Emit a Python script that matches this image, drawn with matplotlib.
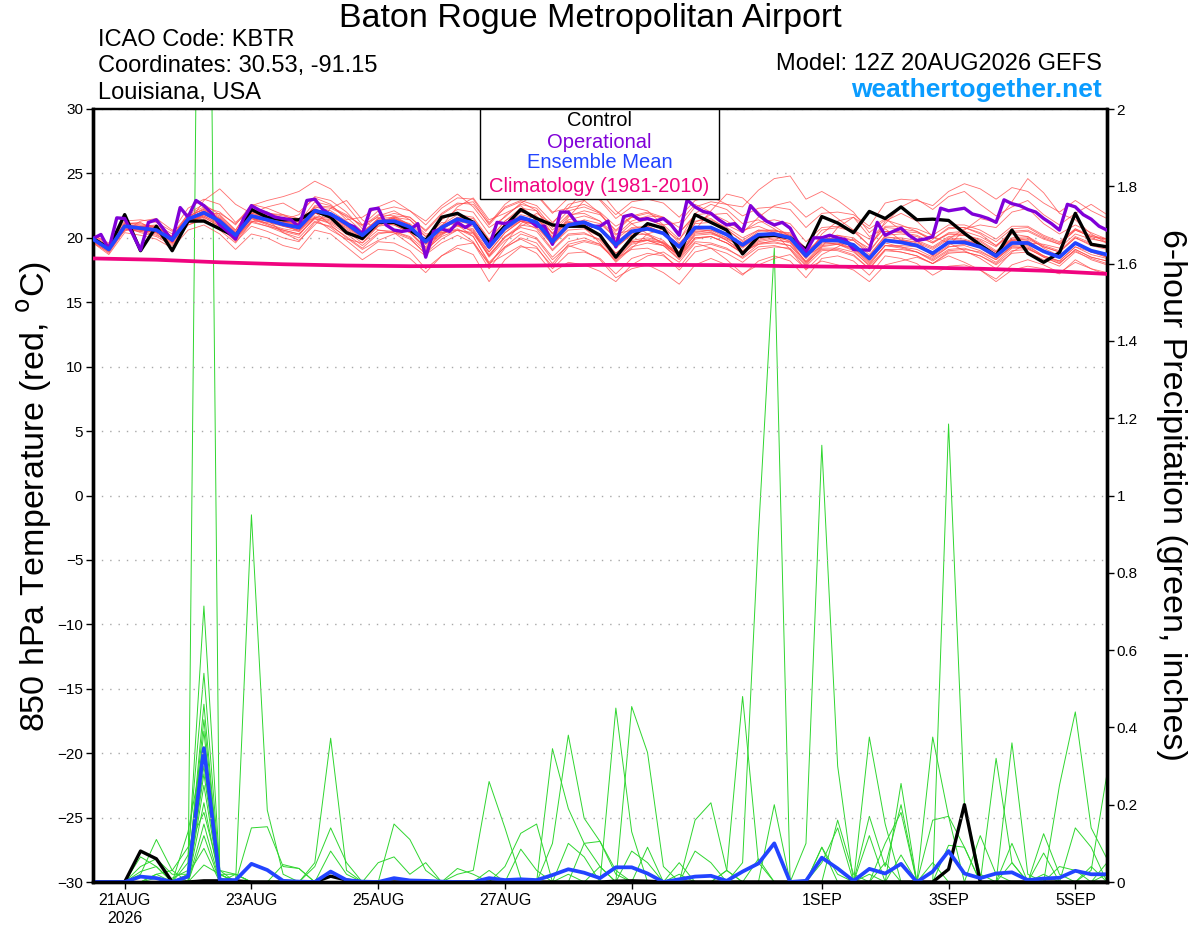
import matplotlib
matplotlib.use("Agg")
import matplotlib.pyplot as plt
from matplotlib.patches import Rectangle

plt.rcParams['font.family'] = ['Liberation Sans', 'DejaVu Sans']

# ---------------- data ----------------
FCST_HOURS_6H = list(range(0, 385, 6))      # 12Z 20AUG2026 + hours
FCST_HOURS_3H = list(range(0, 385, 3))
XTICK_HOURS = [12, 60, 108, 156, 204, 276, 324, 372]
XTICK_LABELS = ['21AUG\n2026', '23AUG', '25AUG', '27AUG', '29AUG', '1SEP', '3SEP', '5SEP']
TEMP_TICKS = [-30, -25, -20, -15, -10, -5, 0, 5, 10, 15, 20, 25, 30]
PRECIP_TICKS = [0, 0.2, 0.4, 0.6, 0.8, 1.0, 1.2, 1.4, 1.6, 1.8, 2.0]
PRECIP_TICK_LABELS = ['0', '0.2', '0.4', '0.6', '0.8', '1', '1.2', '1.4', '1.6', '1.8', '2']

CONTROL_T = [19.95, 19.2, 21.8, 19.0, 20.9, 19.0, 21.3, 21.3, 20.7, 20.1, 22.2, 21.6, 21.4,
             21.4, 22.1, 21.6, 20.4, 19.95, 21.2, 21.2, 20.6, 19.8, 21.6, 21.9, 21.2, 19.6,
             20.9, 22.2, 21.5, 21.0, 20.9, 20.9, 20.2, 18.5, 20.0, 21.1, 20.75, 18.6, 21.8,
             21.2, 20.6, 18.75, 20.1, 20.2, 20.0, 19.1, 21.65, 21.15, 20.4, 22.05, 21.5, 22.4,
             21.4, 21.45, 21.35, 20.35, 19.45, 18.6, 20.6, 18.8, 18.1, 18.85, 21.9, 19.5, 19.3]

OPERATIONAL_T = [19.95, 20.26, 19.1, 21.55, 21.5, 20.3, 19.05, 21.2, 21.4, 20.6, 19.8, 22.35, 21.6,
                 22.9, 22.5, 21.9, 21.0, 20.5, 19.9, 21.5, 22.5, 22.15, 21.9, 21.6, 21.5, 21.4,
                 20.85, 22.9, 23.0, 22.2, 21.8, 21.5, 21.1, 20.85, 20.3, 22.2, 22.3, 21.0, 20.6,
                 20.5, 20.6, 21.1, 18.5, 20.5, 20.7,
                 20.5, 21.2, 20.8, 21.2, 20.2, 19.3, 21.2, 21.1, 21.3, 21.5, 21.4, 20.9, 20.9,
                 19.5, 22.0, 22.0, 21.2, 21.2, 20.9, 20.9, 21.3, 19.3, 21.65, 21.8, 21.4, 21.5,
                 21.3, 21.5, 21.0, 20.2, 22.95, 22.4, 22.05, 21.9, 21.4, 21.0, 21.1, 20.5, 22.5,
                 21.8, 21.3, 21.0,
                 21.2, 20.75, 19.6, 18.9, 20.0, 20.0, 20.2, 20.0, 19.85, 19.1, 19.05, 19.05, 21.2,
                 20.2, 20.5, 20.75, 20.2, 19.8, 19.9, 20.1, 22.3, 22.1, 22.2, 22.3, 21.85, 21.7,
                 21.5, 21.2, 22.95, 22.65, 22.5, 22.2, 22.0, 21.5, 21.1, 20.6, 22.6, 22.4, 21.8,
                 21.45, 20.9, 20.6]

MEAN_T = [19.9, 19.1, 20.9, 20.75, 20.6, 19.85, 21.45, 21.95, 21.3, 20.2, 21.7, 21.4, 21.05,
          20.8, 22.1, 21.85, 21.1, 20.2, 21.25, 21.3, 20.85, 19.7, 20.8, 21.45, 21.15, 19.3,
          20.75, 21.6, 21.2, 19.7, 21.0, 21.2, 20.7, 19.45, 20.5, 20.7, 20.35, 19.3, 20.8,
          20.8, 20.25, 19.45, 20.25, 20.3, 20.0, 18.6, 19.8, 19.8, 19.45, 18.4, 19.8, 19.65,
          19.4, 18.8, 19.65, 19.65, 19.3, 18.6, 19.6, 19.6, 18.95, 18.5, 19.6, 19.0, 18.7]

CLIM_HOURS = [0, 24, 48, 72, 96, 120, 144, 168, 192, 216, 240, 264, 288, 312, 336, 360, 384]
CLIM_T = [18.4, 18.3, 18.1, 17.95, 17.85, 17.8, 17.82, 17.85, 17.9, 17.9, 17.88, 17.8, 17.75,
          17.7, 17.6, 17.45, 17.2]

MEMBERS_T = [
    [20.1, 19.3, 21.2, 21.0, 20.9, 20.0, 21.9, 22.6, 21.8, 20.6, 22.4, 22.0, 21.5,
     21.2, 22.8, 22.5, 21.6, 20.5, 21.4, 21.5, 20.9, 19.5, 20.4, 20.9, 20.6, 18.7,
     20.1, 20.8, 20.5, 19.0, 20.2, 20.3, 19.9, 18.6, 19.7, 19.8, 19.4, 18.3, 19.7,
     19.6, 19.2, 18.4, 19.3, 19.4, 19.1, 17.8, 19.0, 19.1, 18.7, 17.6, 19.0, 18.9,
     18.6, 18.0, 18.9, 18.9, 18.6, 17.9, 18.8, 18.9, 18.3, 17.8, 18.9, 18.4, 18.0],
    [19.8, 19.0, 20.7, 20.6, 20.4, 19.7, 21.2, 21.7, 21.1, 20.0, 21.3, 21.2, 20.9,
     20.6, 21.7, 21.5, 20.9, 20.1, 21.3, 21.5, 21.1, 20.1, 21.4, 22.2, 22.0, 20.3,
     21.7, 22.6, 22.3, 20.8, 22.1, 22.4, 21.9, 20.5, 21.6, 21.9, 21.5, 20.4, 21.8,
     21.9, 21.3, 20.5, 21.2, 21.4, 21.1, 19.7, 20.8, 20.9, 20.6, 19.4, 20.8, 20.7,
     20.5, 19.9, 20.7, 20.8, 20.4, 19.7, 20.7, 20.8, 20.1, 19.6, 20.7, 20.2, 19.9],
    [20.0, 19.2, 21.0, 20.6, 20.5, 19.9, 21.6, 22.3, 21.7, 20.6, 22.5, 22.9, 23.2,
     23.6, 24.4, 23.8, 22.5, 21.0, 21.6, 21.2, 20.5, 19.2, 20.3, 21.0, 20.7, 18.9,
     20.4, 21.3, 21.0, 19.4, 20.8, 21.1, 20.6, 19.2, 20.3, 20.6, 20.4, 19.5, 21.1,
     21.2, 20.6, 19.8, 20.6, 20.4, 20.2, 18.8, 20.1, 20.2, 19.8, 18.7, 20.1, 19.9,
     19.6, 19.1, 19.9, 19.8, 19.4, 18.8, 19.9, 20.0, 19.3, 18.9, 20.0, 19.4, 19.1],
    [19.7, 18.8, 20.6, 20.5, 20.3, 19.5, 21.0, 21.4, 20.8, 19.8, 21.2, 20.9, 20.6,
     20.3, 21.5, 21.2, 20.5, 19.6, 20.6, 20.5, 20.0, 18.7, 19.6, 20.2, 19.6, 17.6,
     19.2, 20.0, 19.6, 18.0, 19.5, 19.8, 19.5, 18.4, 19.6, 19.9, 19.6, 18.5, 20.0,
     20.1, 19.6, 18.8, 19.7, 19.9, 19.6, 18.1, 19.4, 19.5, 19.1, 18.0, 19.4, 19.3,
     19.1, 18.5, 19.3, 19.4, 19.0, 18.3, 19.3, 19.3, 18.6, 18.2, 19.3, 18.7, 18.4],
    [20.2, 19.4, 21.1, 21.1, 20.8, 20.1, 21.6, 22.0, 21.2, 20.4, 22.1, 21.9, 21.7,
     21.4, 22.3, 21.6, 20.7, 19.9, 21.0, 21.7, 21.6, 20.5, 21.8, 22.6, 22.8, 21.0,
     22.4, 22.9, 22.5, 21.2, 22.3, 22.6, 22.0, 20.9, 21.6, 21.5, 20.9, 19.6, 20.7,
     20.5, 19.8, 18.9, 19.5, 19.6, 19.4, 18.2, 19.5, 19.6, 19.4, 18.6, 20.2, 20.3,
     20.1, 19.6, 20.4, 20.5, 20.1, 19.4, 20.5, 20.6, 20.0, 19.5, 20.6, 20.1, 19.9],
    [19.9, 19.2, 20.8, 20.9, 20.8, 20.0, 21.3, 21.6, 20.9, 19.9, 21.5, 21.0, 20.5,
     20.2, 21.6, 21.4, 20.8, 20.0, 21.2, 21.5, 21.0, 19.6, 20.5, 21.0, 20.5, 18.5,
     19.8, 20.5, 20.0, 18.5, 19.7, 20.0, 19.5, 18.2, 19.3, 19.6, 19.4, 18.7, 20.4,
     20.6, 20.2, 19.6, 20.5, 20.6, 20.3, 18.9, 20.0, 19.9, 19.4, 18.3, 19.6, 19.3,
     18.9, 18.2, 19.0, 19.1, 18.9, 18.3, 19.4, 19.5, 18.9, 18.5, 19.6, 19.0, 18.6],
    [20.0, 19.1, 20.9, 20.7, 20.5, 19.8, 21.4, 22.0, 21.4, 20.3, 21.9, 21.7, 21.3,
     21.0, 22.2, 21.9, 21.2, 20.3, 21.5, 21.9, 21.6, 20.6, 21.9, 22.7, 22.6, 21.1,
     22.6, 23.5, 23.3, 21.9, 23.1, 23.4, 23.0, 21.8, 22.8, 23.0, 22.7, 21.6, 22.9,
     23.2, 22.6, 21.7, 22.3, 22.4, 22.2, 20.8, 21.9, 22.0, 21.8, 20.9, 22.7, 23.0,
     22.9, 22.5, 23.6, 24.2, 23.8, 23.0, 23.9, 23.6, 22.7, 22.0, 22.9, 22.1, 21.5],
    [19.8, 18.9, 20.7, 20.5, 20.2, 19.6, 21.2, 21.6, 20.9, 19.7, 20.9, 20.5, 20.0,
     19.7, 21.2, 20.9, 20.1, 19.2, 20.3, 20.5, 20.1, 19.0, 20.2, 21.0, 20.9, 19.1,
     20.6, 21.3, 20.7, 19.1, 20.3, 20.4, 19.8, 18.4, 19.1, 19.2, 18.7, 17.5, 18.9,
     19.2, 18.8, 18.1, 19.1, 19.3, 19.2, 17.9, 19.3, 19.5, 19.2, 18.2, 19.8, 19.8,
     19.7, 19.2, 20.0, 19.9, 19.5, 18.7, 19.6, 19.4, 18.6, 18.1, 19.0, 18.3, 17.9],
    [20.1, 19.2, 21.1, 20.9, 20.7, 19.9, 21.5, 22.1, 21.5, 20.4, 21.9, 21.6, 21.2,
     20.9, 22.2, 21.8, 21.0, 20.1, 21.1, 21.0, 20.4, 19.3, 20.6, 21.4, 21.2, 19.5,
     21.1, 22.0, 21.7, 20.3, 21.7, 22.1, 21.8, 20.6, 21.7, 22.0, 21.6, 20.4, 21.7,
     21.5, 20.7, 19.7, 20.3, 20.2, 19.7, 18.1, 19.1, 19.0, 18.6, 17.6, 19.1, 19.1,
     18.9, 18.4, 19.3, 19.5, 19.3, 18.7, 19.8, 19.9, 19.3, 18.9, 20.0, 19.5, 19.3],
    [19.6, 18.9, 20.8, 20.9, 20.9, 20.1, 21.7, 22.2, 21.5, 20.2, 21.6, 21.1, 20.7,
     20.5, 21.9, 21.7, 21.1, 20.4, 21.5, 21.6, 21.0, 19.5, 20.3, 20.7, 20.1, 18.1,
     19.3, 19.9, 19.3, 17.6, 18.8, 18.9, 18.4, 17.2, 18.4, 18.8, 18.6, 17.7, 19.3,
     19.5, 19.1, 18.5, 19.5, 19.8, 19.7, 18.4, 19.7, 19.8, 19.5, 18.5, 19.9, 19.8,
     19.5, 18.9, 19.7, 19.6, 19.2, 18.4, 19.3, 19.2, 18.5, 18.0, 19.1, 18.5, 18.2],
    [20.0, 19.0, 21.0, 20.8, 20.6, 19.8, 21.4, 21.9, 21.1, 20.0, 21.5, 21.3, 21.1,
     21.0, 22.5, 22.4, 21.8, 20.9, 21.8, 21.7, 21.0, 19.7, 20.7, 21.3, 21.0, 19.2,
     20.6, 21.4, 21.0, 19.5, 20.6, 20.7, 20.1, 18.8, 19.8, 20.0, 19.7, 18.7, 20.2,
     20.3, 19.9, 19.3, 20.2, 20.5, 20.4, 19.2, 20.6, 20.8, 20.5, 19.4, 20.9, 20.9,
     20.7, 20.2, 21.0, 21.0, 20.6, 19.9, 20.9, 20.9, 20.2, 19.7, 20.7, 20.0, 19.6],
    [19.9, 19.1, 20.8, 20.6, 20.4, 19.8, 21.3, 21.8, 21.2, 20.1, 21.6, 21.3, 20.9,
     20.6, 21.9, 21.7, 21.0, 20.2, 21.2, 21.4, 20.9, 19.8, 20.9, 21.6, 21.3, 19.6,
     21.0, 21.8, 21.5, 20.1, 21.4, 21.7, 21.3, 20.2, 21.3, 21.7, 21.6, 20.8, 22.4,
     22.8, 22.6, 22.4, 23.7, 24.6, 24.8, 23.0, 23.6, 22.9, 22.0, 20.4, 21.4, 21.0,
     20.5, 19.7, 20.3, 20.2, 19.7, 18.9, 19.8, 19.7, 19.0, 18.5, 19.6, 19.0, 18.7],
    [19.8, 19.0, 20.9, 20.6, 20.4, 19.7, 21.2, 21.8, 21.3, 20.3, 21.8, 21.6, 21.3,
     21.1, 22.4, 22.1, 21.3, 20.4, 21.2, 21.0, 20.4, 19.1, 20.1, 20.6, 20.3, 18.6,
     20.1, 21.0, 20.8, 19.5, 20.9, 21.4, 21.1, 20.0, 21.1, 21.4, 21.0, 19.9, 21.3,
     21.4, 20.8, 20.0, 20.6, 20.6, 20.2, 18.7, 19.7, 19.5, 19.0, 17.8, 19.1, 18.9,
     18.6, 18.0, 18.8, 18.9, 18.6, 18.0, 19.0, 19.1, 18.6, 18.2, 19.3, 18.9, 18.7],
    [20.0, 19.2, 20.9, 20.7, 20.5, 19.9, 21.5, 21.9, 21.2, 20.1, 21.6, 21.5, 21.2,
     21.1, 22.4, 22.3, 21.7, 21.0, 22.1, 22.4, 22.1, 21.0, 22.3, 23.1, 23.0, 21.2,
     22.3, 22.8, 22.1, 20.3, 21.2, 21.0, 20.2, 18.8, 19.7, 19.8, 19.4, 18.4, 19.9,
     20.1, 19.6, 18.9, 19.8, 20.0, 19.8, 18.5, 19.8, 19.8, 19.5, 18.5, 20.0, 20.0,
     19.8, 19.3, 20.1, 20.2, 19.9, 19.3, 20.4, 20.5, 19.9, 19.5, 20.6, 20.1, 19.8],
    [19.8, 19.0, 20.7, 20.6, 20.5, 19.7, 21.3, 21.7, 21.0, 19.9, 21.3, 20.9, 20.4,
     20.0, 21.3, 20.8, 19.8, 18.8, 19.7, 19.6, 19.0, 17.6, 18.6, 19.2, 18.7, 16.6,
     18.3, 19.3, 19.2, 17.8, 19.3, 19.7, 19.4, 18.3, 19.5, 19.8, 19.6, 18.6, 20.3,
     20.4, 20.0, 19.3, 20.1, 20.2, 19.9, 18.5, 19.6, 19.6, 19.2, 18.1, 19.4, 19.2,
     18.9, 18.3, 19.1, 19.2, 18.8, 18.1, 19.2, 19.2, 18.5, 18.0, 19.1, 18.5, 18.2],
    [20.1, 19.3, 21.0, 20.9, 20.8, 20.1, 21.7, 22.2, 21.6, 20.5, 22.0, 21.7, 21.3,
     20.9, 22.1, 21.7, 20.9, 20.0, 21.1, 21.3, 20.9, 19.8, 21.0, 21.8, 21.6, 19.9,
     21.3, 22.1, 21.6, 20.0, 21.2, 21.3, 20.7, 19.3, 20.2, 20.3, 19.8, 18.6, 20.0,
     20.1, 19.6, 18.8, 19.6, 19.7, 19.4, 18.0, 19.2, 19.2, 18.9, 17.9, 19.4, 19.4,
     19.3, 18.8, 19.7, 19.8, 19.5, 18.9, 20.0, 20.1, 19.4, 19.0, 20.1, 19.6, 19.3],
    [19.9, 19.2, 21.0, 20.8, 20.6, 19.8, 21.5, 22.1, 21.5, 20.4, 21.8, 21.4, 21.0,
     20.5, 21.6, 21.3, 20.6, 19.8, 20.9, 21.1, 20.7, 19.6, 20.8, 21.6, 21.5, 19.8,
     21.3, 22.3, 22.1, 20.6, 21.8, 21.9, 21.3, 19.9, 20.8, 20.9, 20.4, 19.2, 20.6,
     20.6, 20.0, 19.2, 20.1, 20.2, 19.9, 18.5, 19.9, 20.0, 19.8, 18.9, 20.5, 20.5,
     20.4, 19.9, 20.8, 20.8, 20.3, 19.4, 20.3, 20.1, 19.2, 18.6, 19.6, 18.9, 18.5],
    [19.9, 19.1, 20.8, 20.8, 20.7, 20.0, 21.6, 22.0, 21.3, 20.1, 21.5, 21.1, 20.6,
     20.3, 21.5, 21.1, 20.3, 19.4, 20.4, 20.4, 19.9, 18.8, 19.9, 20.6, 20.4, 18.9,
     20.4, 21.3, 21.0, 19.6, 20.9, 21.2, 20.8, 19.6, 20.7, 20.9, 20.4, 19.2, 20.5,
     20.4, 19.8, 19.0, 19.9, 20.1, 19.9, 18.7, 20.1, 20.2, 20.0, 19.0, 20.5, 20.4,
     20.2, 19.6, 20.3, 20.3, 19.8, 19.0, 19.9, 19.8, 19.0, 18.5, 19.5, 18.9, 18.5],
    [19.7, 19.0, 20.6, 20.9, 21.0, 20.3, 21.8, 22.4, 22.0, 21.0, 22.6, 22.3, 21.8,
     21.5, 22.0, 21.0, 20.0, 19.1, 19.8, 20.3, 20.6, 19.9, 21.2, 21.0, 20.1, 18.0,
     18.7, 19.4, 18.8, 17.3, 18.1, 17.9, 17.4, 16.6, 17.9, 18.6, 18.9, 18.1, 19.6,
     19.2, 18.3, 17.2, 17.9, 18.4, 18.7, 17.6, 18.2, 17.9, 17.5, 16.6, 17.9, 18.2,
     18.5, 18.0, 18.6, 18.1, 17.5, 16.8, 17.9, 18.3, 17.9, 17.3, 18.1, 17.6, 17.1],
    [20.2, 19.6, 20.5, 21.3, 21.5, 20.6, 21.1, 22.9, 23.8, 22.6, 21.9, 22.4, 22.7,
     22.0, 23.1, 22.6, 21.4, 21.6, 22.4, 22.9, 22.1, 21.3, 22.5, 23.4, 22.4, 20.8,
     21.6, 22.7, 23.4, 22.0, 22.3, 23.7, 22.9, 21.5, 22.4, 22.1, 21.0, 21.2, 22.6,
     22.0, 21.0, 20.4, 21.6, 22.5, 22.8, 21.6, 22.4, 21.5, 20.6, 19.9, 21.1, 22.4,
     23.0, 22.2, 23.2, 23.6, 22.6, 21.7, 22.4, 22.9, 21.8, 21.0, 21.9, 22.6, 21.8],
    [19.6, 18.7, 20.4, 20.2, 19.9, 19.2, 20.6, 21.0, 20.3, 19.1, 20.3, 20.0, 19.4,
     19.1, 20.6, 20.3, 19.3, 18.3, 19.1, 19.0, 18.4, 17.3, 18.6, 19.4, 19.6, 18.0,
     19.3, 20.3, 19.9, 18.3, 19.4, 19.0, 18.3, 16.9, 17.6, 17.9, 17.3, 16.4, 17.9,
     18.4, 17.9, 17.1, 18.2, 18.6, 18.2, 16.9, 18.4, 18.6, 18.2, 17.1, 18.6, 18.4,
     18.0, 17.1, 17.8, 17.9, 17.5, 16.6, 17.5, 17.8, 17.6, 17.2, 18.3, 17.6, 17.3],
    [20.3, 19.5, 21.3, 21.4, 21.2, 20.5, 22.3, 23.0, 22.6, 21.2, 22.3, 21.4, 20.4,
     19.8, 21.0, 22.3, 22.9, 21.4, 20.6, 20.4, 19.5, 18.6, 20.9, 22.4, 23.1, 21.4,
     21.9, 22.5, 21.3, 19.8, 21.6, 22.9, 23.6, 22.1, 21.1, 20.3, 19.5, 18.7, 20.6,
     22.1, 23.4, 23.1, 22.0, 20.9, 20.1, 18.6, 19.3, 20.8, 21.6, 20.7, 21.5, 20.6,
     19.8, 18.6, 19.4, 20.6, 21.5, 21.2, 22.8, 24.6, 23.5, 21.9, 21.4, 20.3, 19.6],
    [19.9, 19.1, 20.9, 20.4, 20.1, 19.4, 21.0, 21.5, 20.6, 19.6, 21.2, 21.9, 21.8,
     21.2, 21.5, 20.6, 19.9, 19.6, 20.9, 21.6, 21.4, 20.3, 20.4, 20.6, 19.7, 17.9,
     19.6, 21.1, 21.9, 21.1, 22.6, 22.9, 21.9, 20.3, 20.6, 20.2, 19.6, 18.9, 21.2,
     21.8, 21.9, 20.6, 20.9, 20.4, 19.1, 17.5, 18.7, 19.3, 19.9, 19.2, 21.3, 21.9,
     21.3, 20.1, 19.6, 19.0, 18.4, 17.6, 18.9, 19.6, 19.5, 19.2, 20.3, 19.9, 19.7],
    [20.0, 19.3, 21.1, 21.2, 20.5, 19.6, 21.2, 21.8, 21.9, 21.1, 22.2, 21.8, 21.4,
     21.8, 23.2, 22.9, 22.0, 20.7, 21.7, 22.1, 21.4, 20.1, 20.9, 21.2, 20.4, 18.6,
     20.0, 20.9, 21.5, 20.4, 21.3, 20.8, 19.6, 18.1, 19.2, 20.3, 20.7, 19.8, 21.9,
     22.6, 22.2, 21.1, 21.4, 20.7, 19.9, 18.4, 20.3, 21.3, 21.6, 20.1, 20.7, 19.8,
     19.5, 18.6, 19.9, 20.7, 21.0, 20.8, 22.0, 22.3, 21.1, 20.3, 21.0, 20.4, 19.9],
]

CONTROL_P = [0, 0, 0, 0.08, 0.06, 0, 0, 0.003, 0.003, 0.003, 0, 0, 0,
             0, 0, 0.015, 0.005, 0, 0, 0, 0, 0, 0, 0, 0, 0,
             0, 0, 0, 0, 0, 0, 0, 0.002, 0.003, 0.002, 0, 0, 0,
             0, 0, 0, 0, 0, 0, 0, 0, 0, 0, 0, 0, 0,
             0, 0, 0.033, 0.2, 0, 0, 0, 0, 0, 0, 0, 0, 0]

MEAN_P = [0, 0, 0, 0.014, 0.01, 0, 0.014, 0.346, 0.005, 0.005, 0.047, 0.031, 0.003,
          0.001, 0, 0.027, 0.005, 0.001, 0, 0.01, 0.004, 0.003, 0.001, 0, 0, 0.01,
          0.005, 0.007, 0.005, 0.018, 0.033, 0.024, 0.01, 0.038, 0.038, 0.022, 0, 0.007, 0.014,
          0.016, 0.003, 0.027, 0.048, 0.1, 0, 0.003, 0.063, 0.035, 0.003, 0.034, 0.022, 0.047,
          0, 0.027, 0.08, 0.022, 0.01, 0.022, 0.025, 0.005, 0.009, 0.011, 0.029, 0.02, 0.02]

MEMBERS_P = [
    [0, 0, 0, 0.02, 0.11, 0.03, 0, 4.1, 0, 0, 0, 0, 0,
     0, 0, 0.08, 0.02, 0, 0, 0, 0, 0, 0, 0, 0, 0,
     0, 0, 0, 0.1, 0.38, 0.165, 0.105, 0.02, 0, 0, 0, 0, 0,
     0, 0, 0, 0, 0, 0, 0, 0.09, 0.02, 0, 0, 0, 0,
     0, 0, 0, 0, 0, 0, 0.36, 0.02, 0, 0, 0, 0, 0],
    [0, 0, 0, 0, 0.01, 0, 0.05, 0.714, 0.03, 0, 0, 0, 0,
     0, 0, 0, 0, 0, 0, 0, 0, 0, 0, 0.02, 0.03, 0.26,
     0.14, 0.01, 0, 0, 0, 0, 0, 0, 0, 0, 0, 0, 0,
     0, 0, 0.05, 0.9, 1.64, 0, 0, 0, 0, 0, 0, 0, 0,
     0, 0, 0, 0, 0, 0, 0, 0, 0, 0.25, 0.44, 0.14, 0.06],
    [0, 0, 0, 0, 0.02, 0, 0.07, 0.54, 0.02, 0, 0.95, 0.186, 0.02,
     0, 0, 0, 0, 0, 0, 0, 0, 0, 0, 0, 0, 0,
     0, 0, 0, 0, 0, 0, 0, 0.45, 0.13, 0, 0, 0, 0,
     0, 0, 0, 0, 0, 0, 0.1, 1.13, 0.3, 0, 0, 0, 0,
     0, 0, 0, 0, 0, 0, 0, 0, 0, 0, 0, 0, 0.02],
    [0, 0, 0, 0.04, 0.06, 0.02, 0.02, 0.46, 0.01, 0, 0, 0, 0,
     0, 0.05, 0.372, 0.03, 0, 0, 0, 0, 0, 0, 0, 0, 0,
     0, 0, 0, 0, 0, 0, 0, 0, 0.454, 0.335, 0.04, 0, 0,
     0, 0, 0, 0, 0, 0, 0, 0, 0, 0, 0, 0, 0,
     0, 0, 1.185, 0.2, 0.02, 0, 0, 0, 0, 0, 0, 0, 0],
    [0, 0, 0, 0, 0, 0.01, 0.03, 0.42, 0.02, 0, 0, 0, 0,
     0, 0, 0, 0, 0, 0, 0.15, 0.11, 0.03, 0, 0, 0, 0,
     0, 0, 0, 0, 0, 0, 0, 0, 0, 0, 0, 0, 0,
     0, 0.03, 0.48, 0.05, 0, 0, 0, 0, 0, 0, 0, 0, 0,
     0, 0, 0, 0, 0, 0.32, 0.05, 0, 0, 0, 0, 0.03, 0.28],
    [0, 0, 0, 0.027, 0.04, 0, 0.02, 0.39, 0, 0, 0, 0, 0,
     0, 0, 0, 0, 0, 0, 0, 0, 0, 0, 0, 0, 0,
     0, 0, 0, 0.345, 0.19, 0.1, 0.04, 0, 0, 0, 0, 0, 0,
     0, 0, 0, 0, 0, 0, 0, 0, 0, 0, 0.375, 0.15, 0,
     0, 0.375, 0.17, 0.09, 0, 0, 0, 0, 0, 0, 0, 0, 0],
    [0, 0, 0, 0, 0, 0, 0.13, 0.35, 0.03, 0.02, 0, 0, 0,
     0, 0, 0, 0, 0, 0, 0, 0, 0, 0, 0, 0, 0,
     0, 0, 0, 0, 0, 0, 0, 0, 0, 0, 0, 0, 0.16,
     0.205, 0.03, 0, 0, 0, 0, 0, 0, 0, 0, 0, 0, 0.255,
     0, 0, 0, 0, 0, 0, 0, 0, 0.125, 0.02, 0, 0, 0],
    [0, 0, 0, 0, 0, 0, 0, 0.3, 0.01, 0, 0.14, 0.143, 0.04,
     0.035, 0, 0, 0, 0, 0, 0, 0, 0, 0, 0, 0, 0,
     0.04, 0.126, 0.15, 0, 0, 0, 0, 0, 0, 0, 0, 0, 0,
     0, 0, 0, 0, 0, 0, 0, 0, 0.16, 0.02, 0, 0, 0,
     0, 0, 0, 0, 0, 0, 0, 0, 0, 0, 0.14, 0.09, 0],
    [0, 0, 0, 0, 0, 0, 0, 0.205, 0, 0, 0, 0, 0,
     0, 0.04, 0.14, 0.05, 0, 0, 0, 0, 0, 0, 0, 0, 0,
     0, 0, 0, 0, 0, 0.1, 0.105, 0.03, 0, 0, 0, 0, 0,
     0, 0, 0, 0, 0, 0, 0, 0, 0, 0, 0.17, 0.04, 0.2,
     0, 0, 0, 0, 0.12, 0.02, 0, 0, 0, 0, 0, 0, 0],
    [0, 0, 0, 0, 0, 0, 0.02, 0.087, 0, 0, 0, 0, 0,
     0, 0, 0, 0, 0, 0.05, 0.065, 0.02, 0.05, 0, 0, 0, 0,
     0, 0, 0, 0, 0.1, 0.065, 0, 0, 0, 0, 0, 0, 0,
     0, 0, 0, 0, 0, 0, 0, 0.05, 0.14, 0, 0, 0, 0,
     0, 0, 0, 0, 0, 0, 0.1, 0, 0, 0, 0, 0, 0],
    [0, 0, 0, 0, 0, 0, 0, 0.044, 0.02, 0.02, 0, 0, 0,
     0, 0, 0, 0, 0, 0, 0, 0, 0, 0, 0.035, 0.02, 0,
     0, 0, 0, 0, 0, 0, 0, 0, 0, 0, 0, 0, 0,
     0, 0, 0, 0, 0, 0, 0, 0, 0, 0, 0, 0.1, 0.18,
     0, 0, 0, 0, 0, 0, 0, 0, 0.075, 0, 0, 0, 0],
    [0, 0, 0, 0, 0, 0, 0, 0.15, 0, 0, 0, 0, 0.045,
     0.035, 0, 0, 0, 0, 0, 0, 0, 0, 0, 0, 0, 0,
     0, 0, 0, 0, 0, 0, 0, 0, 0, 0.09, 0, 0, 0.08,
     0.05, 0, 0, 0, 0, 0, 0, 0, 0, 0, 0, 0, 0,
     0, 0.16, 0.17, 0, 0, 0, 0, 0, 0, 0, 0, 0, 0.05],
    [0, 0, 0, 0, 0, 0, 0, 0.12, 0, 0, 0, 0, 0,
     0, 0, 0, 0, 0, 0, 0, 0, 0, 0, 0, 0, 0,
     0, 0, 0, 0, 0, 0, 0, 0, 0, 0, 0, 0, 0,
     0, 0.03, 0, 0, 0.2, 0, 0, 0.09, 0, 0, 0.12, 0, 0,
     0, 0, 0.095, 0.09, 0, 0, 0, 0, 0, 0, 0, 0, 0],
    [0, 0, 0, 0.065, 0.04, 0, 0, 0.25, 0, 0.02, 0, 0, 0,
     0, 0, 0, 0, 0, 0, 0, 0, 0, 0, 0, 0, 0,
     0, 0.085, 0.03, 0, 0, 0, 0.04, 0, 0, 0, 0, 0.02, 0,
     0, 0, 0, 0, 0, 0, 0, 0, 0, 0, 0, 0.05, 0,
     0, 0, 0, 0, 0, 0, 0, 0, 0, 0.04, 0.03, 0, 0],
    [0, 0, 0, 0, 0.02, 0.03, 0.09, 0.18, 0.02, 0, 0, 0, 0,
     0, 0, 0, 0, 0, 0, 0, 0, 0, 0, 0, 0, 0,
     0, 0, 0, 0, 0, 0, 0, 0, 0.08, 0.05, 0, 0, 0,
     0, 0, 0, 0.06, 0, 0, 0, 0, 0, 0, 0.02, 0, 0,
     0, 0, 0, 0, 0, 0, 0.05, 0, 0.02, 0, 0, 0, 0],
    [0, 0, 0, 0, 0, 0, 0, 0.28, 0, 0, 0, 0, 0,
     0, 0, 0, 0, 0, 0, 0, 0, 0, 0, 0, 0, 0.03,
     0, 0, 0, 0, 0.02, 0, 0, 0, 0, 0, 0, 0.05, 0,
     0, 0, 0, 0, 0, 0, 0, 0, 0, 0, 0, 0, 0.07,
     0, 0.05, 0, 0, 0, 0, 0, 0, 0, 0, 0, 0.04, 0],
]

# ---------------- styling ----------------
RED = '#ff4a4a'
GREEN = '#2fd62f'
PURPLE = '#8000d8'
BLUE = '#2244ff'
PINK = '#f0047f'
SITE_BLUE = '#0a9cff'

W, H = 1200, 927
fig = plt.figure(figsize=(W / 100, H / 100), dpi=100)
L, R, T, B = 93, 1107, 109, 882
ax = fig.add_axes([L / W, 1 - B / H, (R - L) / W, (B - T) / H])
ax2 = ax.twinx()
ax.set_zorder(ax2.get_zorder() + 1)
ax.patch.set_visible(False)

# precipitation (right axis)
for m in MEMBERS_P:
    ax2.plot(FCST_HOURS_6H, m, color=GREEN, lw=0.7, zorder=1)
ax2.plot(FCST_HOURS_6H, CONTROL_P, color='black', lw=2.4, zorder=3)
ax2.plot(FCST_HOURS_6H, MEAN_P, color=BLUE, lw=2.7, zorder=4)
ax2.set_ylim(0, 2)
ax2.set_yticks(PRECIP_TICKS)
ax2.set_yticklabels(PRECIP_TICK_LABELS)

# temperature (left axis)
ax.yaxis.grid(True, linestyle=(0, (1, 5)), color='#a8a8a8', lw=1.0)
ax.set_axisbelow(True)
for m in MEMBERS_T:
    ax.plot(FCST_HOURS_6H, m, color=RED, lw=0.6, alpha=0.8, zorder=2)
ax.plot(CLIM_HOURS, CLIM_T, color=PINK, lw=2.7, zorder=3)
ax.plot(FCST_HOURS_6H, CONTROL_T, color='black', lw=2.4, zorder=4)
ax.plot(FCST_HOURS_3H, OPERATIONAL_T, color=PURPLE, lw=2.4, zorder=5)
ax.plot(FCST_HOURS_6H, MEAN_T, color=BLUE, lw=2.7, zorder=6)
ax.set_ylim(-30, 30)
ax.set_yticks(TEMP_TICKS)
ax.set_xlim(FCST_HOURS_6H[0], FCST_HOURS_6H[-1])
ax.set_xticks(XTICK_HOURS)
ax.set_xticklabels(XTICK_LABELS)

for a in (ax, ax2):
    for s in ('left', 'right', 'bottom'):
        a.spines[s].set_linewidth(2.4)
    a.spines['top'].set_linewidth(1.6)
ax.tick_params(axis='y', direction='out', length=5, width=1, labelsize=11, pad=2)
ax.tick_params(axis='x', direction='out', length=5, width=1, labelsize=11.5, pad=3)
ax2.tick_params(axis='y', direction='out', length=5, width=1, labelsize=11, pad=2)

# legend box
bx0, bx1 = (480 - L) / (R - L), (719 - L) / (R - L)
by0 = (B - 199) / (B - T)
ax.add_patch(Rectangle((bx0, by0), bx1 - bx0, 1 - by0, transform=ax.transAxes,
                       facecolor='white', edgecolor='black', lw=1.0, zorder=20,
                       clip_on=False))
legend_items = [('Control', 'black', 121), ('Operational', PURPLE, 142),
                ('Ensemble Mean', BLUE, 163), ('Climatology (1981-2010)', PINK, 186)]
for label, col, ypix in legend_items:
    ax.text(0.5 * (bx0 + bx1), (B - ypix) / (B - T), label, color=col, fontsize=14.5,
            ha='center', va='center', transform=ax.transAxes, zorder=21)

# header texts
fig.text(590 / W, 1 - 19 / H, 'Baton Rogue Metropolitan Airport', fontsize=24.5,
         ha='center', va='center')
fig.text(98 / W, 1 - 40 / H, 'ICAO Code: KBTR', fontsize=17, ha='left', va='center')
fig.text(98 / W, 1 - 66 / H, 'Coordinates: 30.53, -91.15', fontsize=17, ha='left', va='center')
fig.text(98 / W, 1 - 93 / H, 'Louisiana, USA', fontsize=17, ha='left', va='center')
fig.text(1102 / W, 1 - 64 / H, 'Model: 12Z 20AUG2026 GEFS', fontsize=17, ha='right', va='center')
fig.text(1102 / W, 1 - 90 / H, 'weathertogether.net', fontsize=19, fontweight='bold',
         color=SITE_BLUE, ha='right', va='center')

# axis titles
fig.text(35 / W, 1 - 496 / H, r'850 hPa Temperature (red, $^{\mathrm{o}}$C)', fontsize=24.5,
         rotation=90, ha='center', va='center')
fig.text(1172 / W, 1 - 495 / H, '6-hour Precipitation (green, inches)', fontsize=24.5,
         rotation=270, ha='center', va='center')

fig.savefig('out.png', dpi=100, facecolor='white')
